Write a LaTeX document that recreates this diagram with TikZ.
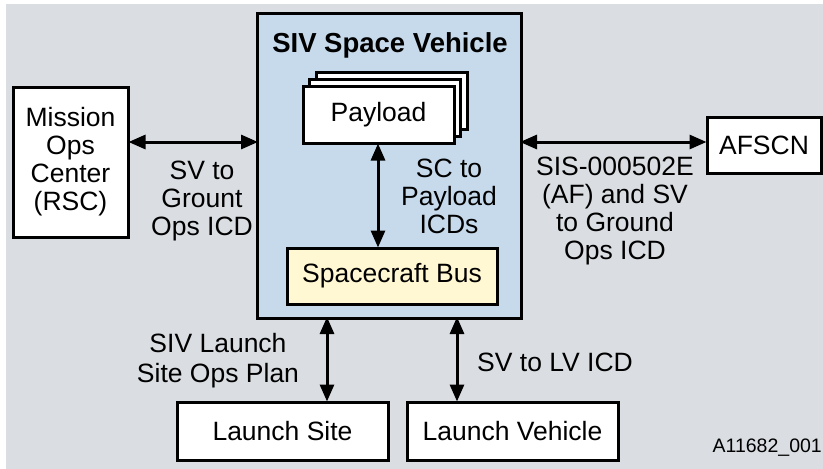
\documentclass[tikz,border=0pt]{standalone}
\usepackage{fontspec}
\setmainfont{Liberation Sans}
\usetikzlibrary{arrows.meta}
\definecolor{bggray}{RGB}{218,222,226}
\definecolor{svblue}{RGB}{198,218,236}
\definecolor{busyellow}{RGB}{255,248,210}
\begin{document}
\begin{tikzpicture}[x=1pt,y=-1pt,
  box/.style={draw=black,line width=3pt,fill=white,inner sep=0pt,align=center,font=\fontsize{26.5}{28}\selectfont},
  lbl/.style={align=center,inner sep=0pt,font=\fontsize{26.5}{28}\selectfont},
  conn/.style={line width=3pt,{Triangle[length=17pt,width=14pt]}-{Triangle[length=17pt,width=14pt]},shorten <=-1pt,shorten >=-1pt}]
\useasboundingbox (0,0) rectangle (823,469);
\fill[white] (0,0) rectangle (823,469);
\fill[bggray] (6,4) rectangle (823,469);
% SIV space vehicle container
\node[draw=black,line width=3pt,fill=svblue,minimum width=264pt,minimum height=305pt,inner sep=0pt] (siv) at (389,165.5) {};
\node[lbl,font=\fontsize{27.5}{28}\selectfont\bfseries] (sivt) at (390,45) {SIV Space Vehicle};
% payload stack
\node[draw=black,line width=3pt,fill=white,minimum width=151pt,minimum height=57pt,inner sep=0pt] (pl3) at (391.5,100.5) {};
\node[draw=black,line width=3pt,fill=white,minimum width=151pt,minimum height=57pt,inner sep=0pt] (pl2) at (385,107.5) {};
\node[box,minimum width=151pt,minimum height=57pt] (pl) at (378.5,114.5) {Payload};
% spacecraft bus
\node[box,fill=busyellow,minimum width=210pt,minimum height=56pt] (bus) at (392,276) {Spacecraft Bus};
\draw[conn] (pl.south -| 378,0) -- (bus.north -| 378,0);
\node[lbl] (scl) at (449,196) {SC to\\Payload\\ICDs};
% mission ops center
\node[box,minimum width=115pt,minimum height=150pt] (moc) at (70.5,162) {Mission\\Ops\\Center\\(RSC)};
\coordinate (sivl) at (257,142);
\draw[conn] (moc.east |- sivl) -- (sivl);
\node[lbl] (mocl) at (202,201) {SV to\\Grount\\Ops ICD};
% AFSCN
\node[box,minimum width=114pt,minimum height=56pt] (afscn) at (764,145) {AFSCN};
\coordinate (sivr) at (521,142);
\draw[conn] (sivr) -- (afscn.west |- sivr);
\node[lbl] (afl) at (615,211) {SIS-000502E\\(AF) and SV\\to Ground\\Ops ICD};
% launch site
\node[box,minimum width=211pt,minimum height=58pt] (ls) at (282.5,431) {Launch Site};
\coordinate (sivb1) at (327,318);
\draw[conn] (sivb1) -- (ls.north -| sivb1);
\node[lbl,font=\fontsize{26.5}{30}\selectfont] (lsl) at (218,361) {SIV Launch\\Site Ops Plan};
% launch vehicle
\node[box,minimum width=211pt,minimum height=58pt] (lv) at (512.5,431) {Launch Vehicle};
\coordinate (sivb2) at (457,318);
\draw[conn] (sivb2) -- (lv.north -| sivb2);
\node[lbl,anchor=west] (lvl) at (477,362) {SV to LV ICD};
% figure id
\node[inner sep=0pt,anchor=east,font=\fontsize{19.5}{22}\selectfont] (fid) at (822,448) {A11682\_001};
\end{tikzpicture}
\end{document}
